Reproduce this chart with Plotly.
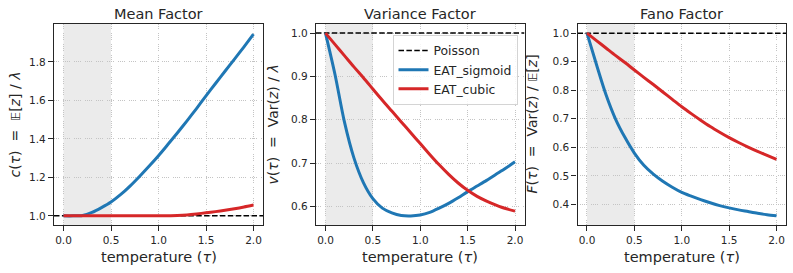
import plotly.graph_objects as go

# ---------------- data ----------------
TAU = [0.0, 0.1, 0.2, 0.3, 0.4, 0.5, 0.6, 0.7, 0.8, 0.9, 1.0,
       1.1, 1.2, 1.3, 1.4, 1.5, 1.6, 1.7, 1.8, 1.9, 2.0]

MEAN_SIGMOID = [1.0, 1.0, 1.002, 1.018, 1.043, 1.072, 1.11, 1.155, 1.205, 1.258, 1.313,
                1.372, 1.432, 1.494, 1.558, 1.624, 1.688, 1.752, 1.815, 1.879, 1.945]
MEAN_CUBIC = [1.0, 1.0, 1.0, 1.0, 1.0, 1.0, 1.0, 1.0, 1.0, 1.0, 1.0,
              1.001, 1.002, 1.005, 1.01, 1.016, 1.022, 1.029, 1.037, 1.046, 1.056]

VAR_SIGMOID = [1.0, 0.905, 0.795, 0.712, 0.655, 0.618, 0.596, 0.585, 0.579, 0.578, 0.580,
               0.586, 0.596, 0.607, 0.62, 0.634, 0.647, 0.66, 0.674, 0.688, 0.703]
VAR_CUBIC = [1.0, 0.974, 0.948, 0.922, 0.897, 0.871, 0.845, 0.82, 0.795, 0.77, 0.745,
             0.72, 0.696, 0.674, 0.654, 0.637, 0.623, 0.612, 0.603, 0.595, 0.589]

FANO_SIGMOID = [1.0, 0.89, 0.785, 0.70, 0.635, 0.58, 0.537, 0.506, 0.481, 0.46, 0.442,
                0.429, 0.417, 0.406, 0.396, 0.388, 0.381, 0.375, 0.369, 0.364, 0.36]
FANO_CUBIC = [1.0, 0.974, 0.948, 0.922, 0.897, 0.871, 0.845, 0.82, 0.794, 0.768, 0.742,
              0.718, 0.695, 0.673, 0.653, 0.634, 0.617, 0.601, 0.586, 0.572, 0.558]

POISSON_LEVEL = 1.0
SHADE_START, SHADE_END = 0.0, 0.5

X_TICKS = [0.0, 0.5, 1.0, 1.5, 2.0]
Y_TICKS = [
    [1.0, 1.2, 1.4, 1.6, 1.8],
    [0.6, 0.7, 0.8, 0.9, 1.0],
    [0.4, 0.5, 0.6, 0.7, 0.8, 0.9, 1.0],
]

BB_E = '<span style="font-size:12.5px">𝔼</span>'
TITLES = ["Mean Factor", "Variance Factor", "Fano Factor"]
X_LABEL = "temperature (<i>τ</i>)"
Y_LABELS = [
    f"<i>c</i>(<i>τ</i>)  =  {BB_E}[<i>z</i>] / <i>λ</i>",
    "<i>v</i>(<i>τ</i>)  =  Var(<i>z</i>) / <i>λ</i>",
    f"<i>F</i>(<i>τ</i>)  =  Var(<i>z</i>) / {BB_E}[<i>z</i>]",
]
SERIES_NAMES = ["Poisson", "EAT_sigmoid", "EAT_cubic"]

# ---------------- style ----------------
W, H = 793, 273
BLUE = "#1f77b4"
RED = "#d62728"
INK = "#262626"
FONT = "DejaVu Sans"
DASH = "5.5px,2.4px"

X_RANGE = [-0.1, 2.1]
Y_RANGES = [[0.9525, 1.9975], [0.557, 1.021], [0.328, 1.032]]

X_DOMAINS = [[54 / W, 263 / W], [316 / W, 524.5 / W], [577.5 / W, 786 / W]]
Y_DOMAIN = [1 - 225 / H, 1 - 24 / H]
YLABEL_X = [15, 273, 532]

fig = go.Figure()

panels = [
    (MEAN_SIGMOID, MEAN_CUBIC),
    (VAR_SIGMOID, VAR_CUBIC),
    (FANO_SIGMOID, FANO_CUBIC),
]

for i, (sig, cub) in enumerate(panels):
    xa = "x" if i == 0 else f"x{i+1}"
    ya = "y" if i == 0 else f"y{i+1}"
    # Poisson reference spanning full x-axis range
    fig.add_trace(go.Scatter(
        x=X_RANGE, y=[POISSON_LEVEL, POISSON_LEVEL], mode="lines",
        name=SERIES_NAMES[0],
        line=dict(color="black", width=1.5, dash=DASH),
        xaxis=xa, yaxis=ya, showlegend=(i == 1), hoverinfo="skip"))
    fig.add_trace(go.Scatter(
        x=TAU, y=sig, mode="lines", name=SERIES_NAMES[1],
        line=dict(color=BLUE, width=3, shape="spline", smoothing=0.8),
        xaxis=xa, yaxis=ya, showlegend=(i == 1)))
    fig.add_trace(go.Scatter(
        x=TAU, y=cub, mode="lines", name=SERIES_NAMES[2],
        line=dict(color=RED, width=3, shape="spline", smoothing=0.8),
        xaxis=xa, yaxis=ya, showlegend=(i == 1)))

    # shaded region
    fig.add_shape(type="rect", xref=xa, yref=f"{ya} domain",
                  x0=SHADE_START, x1=SHADE_END, y0=0, y1=1,
                  fillcolor="#ebebeb", line_width=0, layer="below")

    axis_common = dict(
        showline=True, mirror=True, linecolor=INK, linewidth=1.25,
        ticks="outside", ticklen=5, tickwidth=1, tickcolor=INK,
        tickfont=dict(family=FONT, size=10.5, color=INK),
        showgrid=True, gridcolor="#c4c4c4", gridwidth=0.8, griddash="0.8px,1.4px",
        zeroline=False, automargin=False, tickformat=".1f",
    )
    fig.update_layout(**{
        ("xaxis" if i == 0 else f"xaxis{i+1}"): dict(
            domain=X_DOMAINS[i], range=X_RANGE, tickvals=X_TICKS,
            anchor=ya, **axis_common),
        ("yaxis" if i == 0 else f"yaxis{i+1}"): dict(
            domain=Y_DOMAIN, range=Y_RANGES[i], tickvals=Y_TICKS[i],
            anchor=xa, **axis_common),
    })

    cx = (X_DOMAINS[i][0] + X_DOMAINS[i][1]) / 2
    fig.add_annotation(text=TITLES[i], xref="paper", yref="paper",
                       x=cx, y=1 - 13.5 / H, xanchor="center", yanchor="middle",
                       showarrow=False, font=dict(family=FONT, size=14.5, color=INK))
    fig.add_annotation(text=X_LABEL, xref="paper", yref="paper",
                       x=cx, y=1 - 257 / H, xanchor="center", yanchor="middle",
                       showarrow=False, font=dict(family=FONT, size=14.5, color=INK))
    fig.add_annotation(text=Y_LABELS[i], xref="paper", yref="paper",
                       x=YLABEL_X[i] / W, y=(Y_DOMAIN[0] + Y_DOMAIN[1]) / 2,
                       xanchor="center", yanchor="middle", textangle=-90,
                       showarrow=False, font=dict(family=FONT, size=14, color=INK))

fig.update_layout(
    width=W, height=H,
    margin=dict(l=0, r=0, t=0, b=0),
    paper_bgcolor="white", plot_bgcolor="white",
    template="none",
    font=dict(family=FONT, color=INK),
    hovermode=False,
    legend=dict(
        x=392.5 / W, y=1 - 35 / H, xanchor="left", yanchor="top",
        bgcolor="rgba(255,255,255,0.85)", bordercolor="#d4d4d4", borderwidth=1,
        font=dict(family=FONT, size=12.4, color=INK),
        traceorder="normal",
    ),
)

fig.write_html("out.html", config={"displayModeBar": False},
               post_script="document.body.style.margin='0px';")
